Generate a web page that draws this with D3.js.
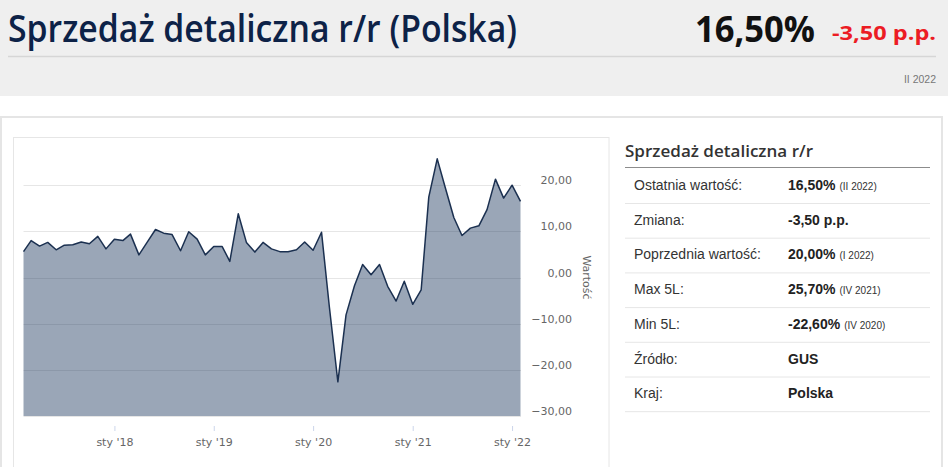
<!DOCTYPE html>
<html><head><meta charset="utf-8">
<script src="https://cdn.jsdelivr.net/npm/d3@7"></script>
<style>html,body{margin:0;padding:0;background:#fff;overflow:hidden}</style>
</head><body><svg id="c" width="948" height="467"></svg>
<script>
// ---- data ----
const periods = [
  "2017-02","2017-03","2017-04","2017-05","2017-06","2017-07","2017-08","2017-09","2017-10","2017-11","2017-12",
  "2018-01","2018-02","2018-03","2018-04","2018-05","2018-06","2018-07","2018-08","2018-09","2018-10","2018-11","2018-12",
  "2019-01","2019-02","2019-03","2019-04","2019-05","2019-06","2019-07","2019-08","2019-09","2019-10","2019-11","2019-12",
  "2020-01","2020-02","2020-03","2020-04","2020-05","2020-06","2020-07","2020-08","2020-09","2020-10","2020-11","2020-12",
  "2021-01","2021-02","2021-03","2021-04","2021-05","2021-06","2021-07","2021-08","2021-09","2021-10","2021-11","2021-12",
  "2022-01","2022-02"
];
const values = [
  5.6, 8.0, 6.8, 7.6, 6.0, 7.0, 7.1, 7.7, 7.3, 8.9, 6.2,
  8.3, 8.0, 9.4, 4.9, 7.6, 10.4, 9.6, 9.3, 5.8, 9.9, 8.3, 4.9,
  6.7, 6.7, 3.5, 13.8, 7.6, 5.5, 7.6, 6.2, 5.6, 5.6, 6.0, 7.7,
  5.9, 9.8, -6.5, -22.6, -8.1, -1.8, 2.8, 0.6, 2.8, -1.9, -5.1, -0.8,
  -5.8, -2.7, 17.4, 25.7, 19.4, 13.0, 9.1, 10.7, 11.2, 14.7, 21.3, 17.2,
  20.0, 16.5
];
const xTickPeriods = ["2018-01","2019-01","2020-01","2021-01","2022-01"];
const xTickLabels = ["sty '18","sty '19","sty '20","sty '21","sty '22"];
const yTicks = [-30, -20, -10, 0, 10, 20];
const yAxisTitle = "Wartość";

const headerTitle = "Sprzedaż detaliczna r/r (Polska)";
const headerValue = "16,50%";
const headerChange = "-3,50 p.p.";
const headerPeriod = "II 2022";

const tableTitle = "Sprzedaż detaliczna r/r";
const rowLabels = ["Ostatnia wartość:","Zmiana:","Poprzednia wartość:","Max 5L:","Min 5L:","Źródło:","Kraj:"];
const rowValues = ["16,50%","-3,50 p.p.","20,00%","25,70%","-22,60%","GUS","Polska"];
const rowNotes  = ["(II 2022)","","(I 2022)","(IV 2021)","(IV 2020)","",""];

// ---- drawing ----
const svg = d3.select("#c");
const parse = d3.timeParse("%Y-%m");

// header
svg.append("rect").attr("x",0).attr("y",0).attr("width",948).attr("height",96).attr("fill","#efefef");
svg.append("text").attr("x",8).attr("y",42)
  .attr("font-family","'Open Sans', sans-serif").attr("font-weight",600).attr("font-size",37)
  .attr("fill","#0d2247").attr("textLength",509).attr("lengthAdjust","spacingAndGlyphs").text(headerTitle);
svg.append("text").attr("x",695).attr("y",42)
  .attr("font-family","'Open Sans', sans-serif").attr("font-weight",700).attr("font-size",36)
  .attr("fill","#111").attr("textLength",120).attr("lengthAdjust","spacingAndGlyphs").text(headerValue);
svg.append("text").attr("x",832).attr("y",39.5)
  .attr("font-family","'Open Sans', sans-serif").attr("font-weight",700).attr("font-size",20)
  .attr("fill","#ec1c24").attr("textLength",104).attr("lengthAdjust","spacingAndGlyphs").text(headerChange);
svg.append("line").attr("x1",8).attr("x2",936).attr("y1",56.5).attr("y2",56.5)
  .attr("stroke","#d6d6d6").attr("stroke-width",1.5);
svg.append("text").attr("x",936).attr("y",82.5).attr("text-anchor","end")
  .attr("font-family","'Liberation Sans', Arial, sans-serif").attr("font-size",10.5)
  .attr("fill","#777").text(headerPeriod);

// card and chart box
svg.append("rect").attr("x",1).attr("y",117).attr("width",941).attr("height",420)
  .attr("fill","#fff").attr("stroke","#e5e5e5").attr("stroke-width",2);
svg.append("rect").attr("x",13.5).attr("y",137.5).attr("width",595.5).attr("height",400)
  .attr("fill","#fff").attr("stroke","#e6e6e6").attr("stroke-width",1);

// scales
const dates = periods.map(parse);
const x = d3.scaleTime().domain([dates[0], dates[dates.length-1]]).range([23.5, 520.5]);
const y = d3.scaleLinear().domain([-30, 30]).range([416, 139]);
const plotG = svg.append("g");

// grid
plotG.selectAll("line.grid").data(yTicks).join("line").attr("class","grid")
  .attr("x1",23.5).attr("x2",521).attr("y1",d=>Math.round(y(d))+0.5).attr("y2",d=>Math.round(y(d))+0.5)
  .attr("stroke","#e6e6e6").attr("stroke-width",1);

// area + line
const pts = dates.map((d,i)=>({d, v: values[i]}));
plotG.append("path").datum(pts)
  .attr("d", d3.area().x(p=>x(p.d)).y0(y(-30)).y1(p=>y(p.v)))
  .attr("fill","#1f3a5f").attr("fill-opacity",0.45);
plotG.append("path").datum(pts)
  .attr("d", d3.line().x(p=>x(p.d)).y(p=>y(p.v)))
  .attr("fill","none").attr("stroke","#1b3050").attr("stroke-width",1.5).attr("stroke-linejoin","round");

// y axis (right)
const fmt = v => d3.format(".2f")(v).replace(".", ",");
const yAx = svg.append("g").attr("transform","translate(572,0)")
  .call(d3.axisRight(y).tickValues(yTicks).tickFormat(fmt).tickSize(0).tickPadding(0));
yAx.select(".domain").remove();
yAx.selectAll("text").attr("text-anchor","end").attr("x",0).attr("dy",-1.5)
  .attr("font-family","'DejaVu Sans', sans-serif").attr("font-size",11).attr("fill","#666");

svg.append("text").attr("transform","translate(586,277.5) rotate(90)")
  .attr("text-anchor","middle").attr("dominant-baseline","middle")
  .attr("font-family","'DejaVu Sans', sans-serif").attr("font-size",11).attr("fill","#666")
  .text(yAxisTitle);

// x axis
const xAx = svg.append("g").attr("transform","translate(0,426)")
  .call(d3.axisBottom(x).tickValues(xTickPeriods.map(parse))
    .tickFormat((d,i)=>xTickLabels[i]).tickSize(5).tickPadding(7));
xAx.select(".domain").remove();
xAx.selectAll(".tick line").attr("stroke","#ccd6eb");
xAx.selectAll("text").attr("font-family","'DejaVu Sans', sans-serif").attr("font-size",11).attr("fill","#666");

// table panel
svg.append("text").attr("x",625).attr("y",157)
  .attr("font-family","'Open Sans', sans-serif").attr("font-weight",600).attr("font-size",17)
  .attr("fill","#333").attr("textLength",188).attr("lengthAdjust","spacingAndGlyphs").text(tableTitle);
svg.append("line").attr("x1",625).attr("x2",930).attr("y1",167.5).attr("y2",167.5)
  .attr("stroke","#8c8c8c").attr("stroke-width",1);

const rows = svg.append("g").selectAll("g").data(rowLabels).join("g")
  .attr("transform",(d,i)=>`translate(0,${190 + i*34.7})`);
rows.append("text").attr("x",634).attr("y",0)
  .attr("font-family","'Liberation Sans', Arial, sans-serif").attr("font-size",14).attr("fill","#333")
  .text(d=>d);
const vt = rows.append("text").attr("x",788).attr("y",0)
  .attr("font-family","'Liberation Sans', Arial, sans-serif").attr("fill","#222");
vt.append("tspan").attr("font-weight",700).attr("font-size",14).text((d,i)=>rowValues[i]);
vt.append("tspan").attr("font-size",10).attr("fill","#333").attr("dx",4).text((d,i)=>rowNotes[i]);
rows.append("line").attr("x1",625).attr("x2",930).attr("y1",13.5).attr("y2",13.5)
  .attr("stroke","#e6e6e6").attr("stroke-width",1);
</script>
</body></html>
